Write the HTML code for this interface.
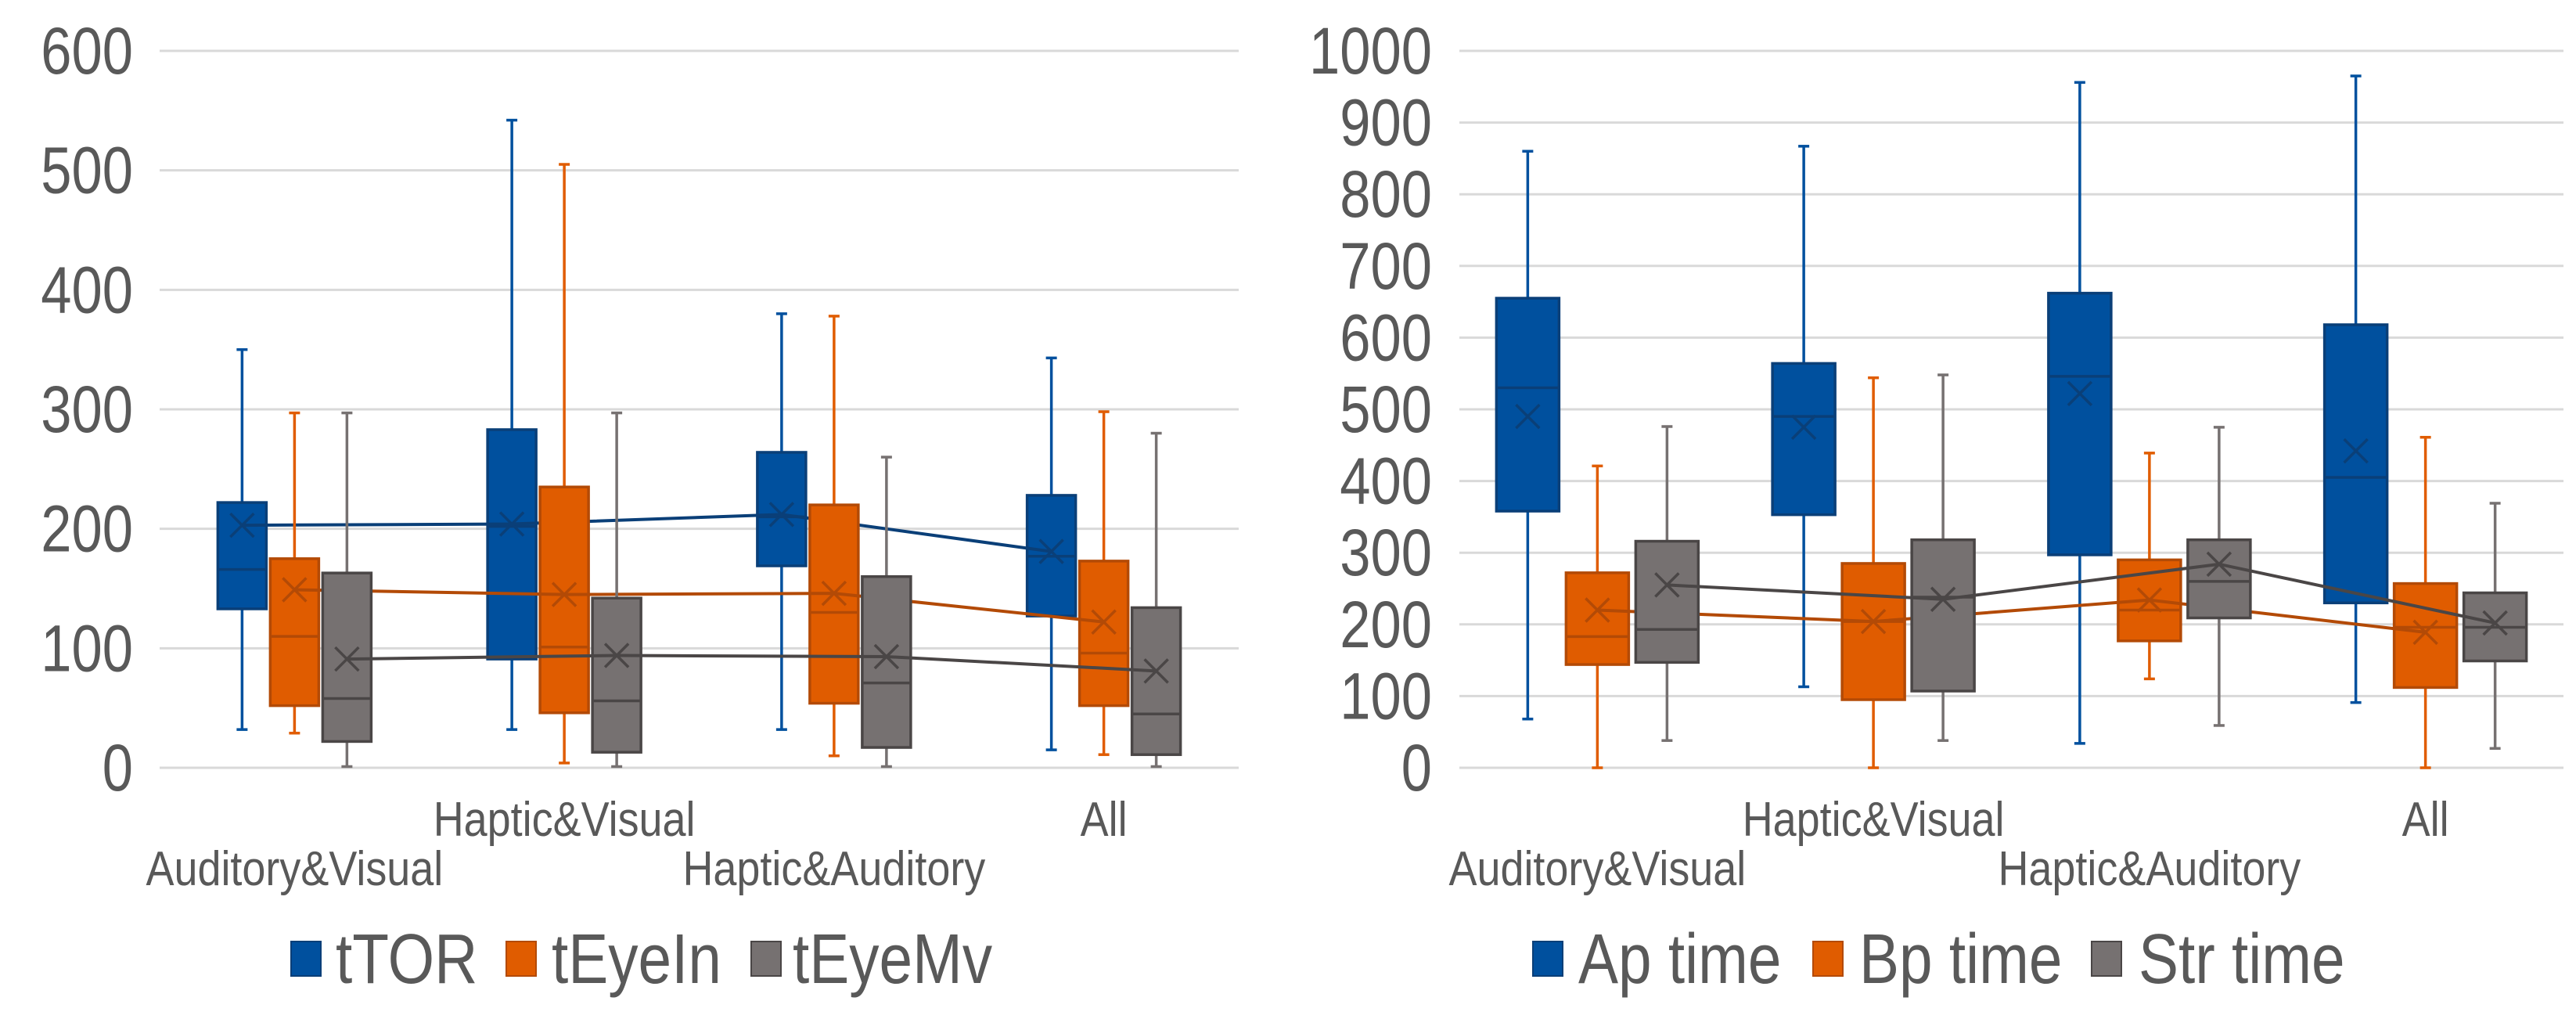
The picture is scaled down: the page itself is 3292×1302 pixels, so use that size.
<!DOCTYPE html>
<html><head><meta charset="utf-8"><style>
html,body{margin:0;padding:0;background:#fff;}
svg{display:block;font-family:"Liberation Sans",Arial,sans-serif;}
</style></head><body>
<svg id="chart" width="3292" height="1302" viewBox="0 0 3292 1302" xmlns="http://www.w3.org/2000/svg"></svg>
<script>
const categories = ["Auditory&Visual","Haptic&Visual","Haptic&Auditory","All"];
// left chart: [min, q1, median, q3, max, mean] per category
const leftNames = ["tTOR","tEyeIn","tEyeMv"];
const tTOR   = [[32,133,166,222,350,203],[32,91,202,283,542,204],[32,169,210,264,380,212],[15,127,177,228,343,181]];
const tEyeIn = [[29,52,110,175,297,149],[4,46,101,235,505,145],[10,54,130,220,378,146],[11,52,96,173,298,122]];
const tEyeMv = [[1,22,58,163,297,91],[1,13,56,142,297,94],[1,17,71,160,260,93],[1,11,45,134,280,81]];
const leftTicks = [0,100,200,300,400,500,600];
// right chart
const rightNames = ["Ap time","Bp time","Str time"];
const apTime  = [[68,358,530,655,860,490],[113,353,490,564,867,475],[34,297,546,662,956,522],[91,230,405,618,965,442]];
const bpTime  = [[0,144,183,272,421,220],[0,95,204,285,544,204],[124,177,220,290,439,234],[0,112,196,257,461,189]];
const strTime = [[38,147,193,316,476,255],[38,107,238,318,548,235],[59,209,260,318,475,284],[27,149,196,244,369,202]];
const rightTicks = [0,100,200,300,400,500,600,700,800,900,1000];

const NS="http://www.w3.org/2000/svg";
const svg=document.getElementById('chart');
const fills=["#00509E","#E05C00","#767171"];
const strokes=["#0A3F78","#B34A06","#4A4646"];
function el(tag,attrs,parent){const e=document.createElementNS(NS,tag);for(const k in attrs)e.setAttribute(k,attrs[k]);(parent||svg).appendChild(e);return e;}
function squeeze(t,f){const w=t.getComputedTextLength();if(w>0){t.setAttribute('textLength',(w*f).toFixed(1));t.setAttribute('lengthAdjust','spacingAndGlyphs');}}

function drawChart(cfg){
  const g=el('g',{});
  
  
  const yMax=cfg.ticks[cfg.ticks.length-1];
  const y=v=>cfg.y0-(v/yMax)*(cfg.y0-cfg.y1);
  const bw=(cfg.x1-cfg.x0)/categories.length;
  const cx=i=>cfg.x0+bw*(i+0.5);
  cfg.ticks.forEach(t=>{
    const l=el('line',{x1:cfg.x0,x2:cfg.x1,y1:y(t),y2:y(t),stroke:'#D9D9D9','stroke-width':3},g);
    
    
    const tx=el('text',{x:cfg.labelX,y:y(t)+29,'text-anchor':'end','font-size':84,fill:'#595959'},g);
    tx.textContent=t;
    
    
    squeeze(tx,0.84);
  });
  categories.forEach((c,i)=>{
    const tx=el('text',{x:cx(i),y:(i%2===0)?1131:1068,'text-anchor':'middle','font-size':62,fill:'#595959'},g);
    tx.textContent=c;
    
    
    squeeze(tx,0.87);
  });
  cfg.series.forEach((data,s)=>{
    const off=(s-1)*cfg.spacing;
    const w=cfg.boxW;
    data.forEach((d,i)=>{
      const x=cx(i)+off;
      const bg=el('g',{},g);
      
      
      el('line',{x1:x,x2:x,y1:y(d[4]),y2:y(d[0]),stroke:fills[s],'stroke-width':3.5},bg);
      el('line',{x1:x-7,x2:x+7,y1:y(d[4]),y2:y(d[4]),stroke:fills[s],'stroke-width':3.5},bg);
      el('line',{x1:x-7,x2:x+7,y1:y(d[0]),y2:y(d[0]),stroke:fills[s],'stroke-width':3.5},bg);
      el('rect',{x:x-w/2,y:y(d[3]),width:w,height:y(d[1])-y(d[3]),fill:fills[s],stroke:strokes[s],'stroke-width':3.5},bg);
      el('line',{x1:x-w/2,x2:x+w/2,y1:y(d[2]),y2:y(d[2]),stroke:strokes[s],'stroke-width':3.5},bg);
      const m=15;
      el('path',{d:`M${x-m},${y(d[5])-m}L${x+m},${y(d[5])+m}M${x+m},${y(d[5])-m}L${x-m},${y(d[5])+m}`,stroke:strokes[s],'stroke-width':3.5,fill:'none'},bg);
    });
    if(cfg.meanLines[s]){
      const pts=data.map((d,i)=>(cx(i)+off)+','+y(d[5])).join(' ');
      const pl=el('polyline',{points:pts,fill:'none',stroke:strokes[s],'stroke-width':4},g);
      
      
    }
  });
  cfg.legend.forEach((lg,s)=>{
    const lgG=el('g',{},g);
    
    
    el('rect',{x:lg[0],y:1203,width:38,height:44,fill:fills[s],stroke:strokes[s],'stroke-width':2},lgG);
    const tx=el('text',{x:lg[1],y:1256,'font-size':90,fill:'#595959'},lgG);
    tx.textContent=cfg.names[s];
    squeeze(tx,0.85);
  });
}
drawChart({name:'left-chart',x0:204,x1:1583,y0:981,y1:65,labelX:170,ticks:leftTicks,
  series:[tTOR,tEyeIn,tEyeMv],names:leftNames,boxW:62,spacing:67,meanLines:[true,true,true],
  legend:[[372,429],[647,705],[960,1013]]});
drawChart({name:'right-chart',x0:1865,x1:3276,y0:981,y1:65,labelX:1830,ticks:rightTicks,
  series:[apTime,bpTime,strTime],names:rightNames,boxW:80,spacing:89,meanLines:[false,true,true],
  legend:[[1959,2017],[2317,2376],[2673,2733]]});
</script>
</body></html>
